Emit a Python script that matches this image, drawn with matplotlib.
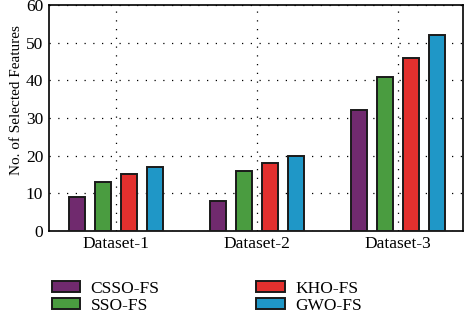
import numpy as np
import matplotlib
matplotlib.use("Agg")
import matplotlib.pyplot as plt

# data
datasets = ["Dataset-1", "Dataset-2", "Dataset-3"]
methods = ["CSSO-FS", "SSO-FS", "KHO-FS", "GWO-FS"]
csso = [9, 8, 32]
sso = [13, 16, 41]
kho = [15, 18, 46]
gwo = [17, 20, 52]
colors = ["#702A6E", "#4A9C40", "#E3302E", "#1F97C7"]

plt.rcParams['font.family'] = ['Liberation Serif', 'DejaVu Serif']

fig = plt.figure(figsize=(4.65, 3.15), dpi=100)
ax = fig.add_axes([0.105, 0.267, 0.891, 0.717])

x = np.arange(len(datasets))
width = 0.113
offsets = [-0.275, -0.092, 0.092, 0.275]
for vals, off, col, lab in zip([csso, sso, kho, gwo], offsets, colors, methods):
    ax.bar(x + off, vals, width, color=col, edgecolor="#1a1a1a", linewidth=1.4,
           label=lab, zorder=3)

ax.set_xlim(-0.475, 2.46)
ax.set_ylim(0, 60)
ax.set_yticks(range(0, 61, 10))
ax.set_xticks(x)
ax.set_xticklabels(datasets)
ax.set_ylabel("No. of Selected Features", fontsize=11)
ax.yaxis.set_label_coords(-0.063, 0.58)
ax.tick_params(axis='both', labelsize=12.5, length=0, pad=4)
ax.grid(True, linestyle=(0, (1, 6)), color="black", linewidth=0.9, zorder=0)
for s in ax.spines.values():
    s.set_linewidth(1.2)

ax.legend(loc="upper left", bbox_to_anchor=(-0.01, -0.19), ncol=2, frameon=False,
          fontsize=12.5, handlelength=1.65, handleheight=0.65, columnspacing=5.55,
          labelspacing=0.05, handletextpad=0.6, borderaxespad=0)

fig.savefig("out.png", dpi=100)
